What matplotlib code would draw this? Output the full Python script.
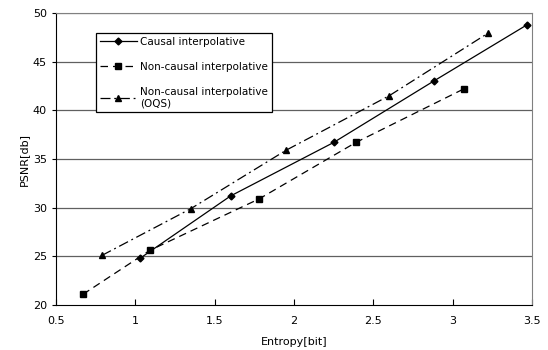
import matplotlib
matplotlib.use("Agg")
import matplotlib.pyplot as plt

causal_x = [1.03, 1.60, 2.25, 2.88, 3.47]
causal_y = [24.8, 31.2, 36.7, 43.0, 48.8]
noncausal_x = [0.67, 1.09, 1.78, 2.39, 3.07]
noncausal_y = [21.1, 25.6, 30.9, 36.7, 42.2]
oqs_x = [0.79, 1.35, 1.95, 2.60, 3.22]
oqs_y = [25.1, 29.9, 35.9, 41.5, 47.9]
labels = ["Causal interpolative", "Non-causal interpolative", "Non-causal interpolative\n(OQS)"]
xticks = [0.5, 1, 1.5, 2, 2.5, 3, 3.5]
yticks = [20, 25, 30, 35, 40, 45, 50]

plt.rcParams['font.family'] = ['DejaVu Sans']
fig = plt.figure(figsize=(5.48, 3.5), dpi=100)
ax = fig.add_axes([56/548, 45/350, 476/548, 292/350])

for y in yticks[1:-1]:
    ax.axhline(y, color='#606060', lw=0.9, zorder=0)
ax.axhline(50, color='#808080', lw=0.9, zorder=0)

ax.plot(causal_x, causal_y, color='black', lw=0.9, ls='-', marker='D', ms=3.5, label=labels[0])
ax.plot(noncausal_x, noncausal_y, color='black', lw=0.9, ls=(0, (6, 4)), marker='s', ms=4.5, label=labels[1])
ax.plot(oqs_x, oqs_y, color='black', lw=0.9, ls=(0, (8, 3, 1.5, 3)), marker='^', ms=4.5, label=labels[2])

ax.set_xlim(0.5, 3.5)
ax.set_ylim(20, 50)
ax.set_xticks(xticks)
ax.set_xticklabels([str(t) for t in xticks])
ax.set_yticks(yticks)
ax.tick_params(axis='x', direction='in', length=4, labelsize=8, pad=8)
ax.tick_params(axis='y', direction='out', length=3, labelsize=8)
ax.spines['top'].set_color('#808080')
ax.spines['right'].set_color('#808080')
ax.set_xlabel('Entropy[bit]', fontsize=8, labelpad=8)
ax.set_ylabel('PSNR[db]', fontsize=8, labelpad=3)

leg = ax.legend(loc='upper left', bbox_to_anchor=(0.084, 0.931), borderaxespad=0,
                fontsize=7.5, frameon=True, fancybox=False, edgecolor='black',
                framealpha=1, labelspacing=1.45, handlelength=3.6, handletextpad=0.3,
                borderpad=0.35)
leg.get_frame().set_linewidth(0.9)

fig.savefig('out.png', dpi=100)
